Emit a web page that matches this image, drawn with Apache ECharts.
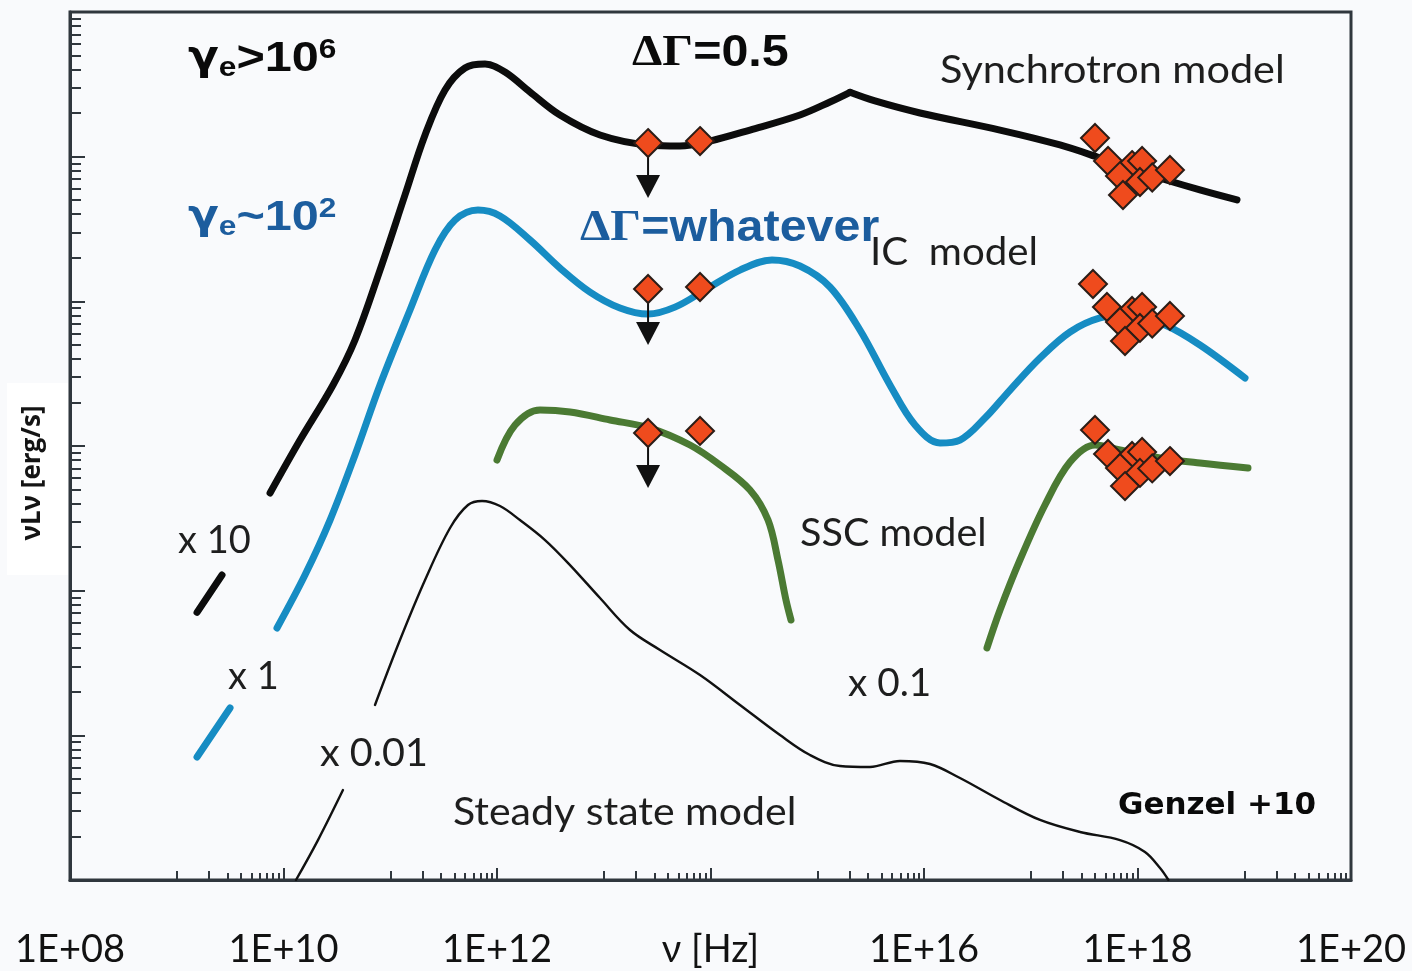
<!DOCTYPE html>
<html>
<head>
<meta charset="utf-8">
<script src="https://cdn.jsdelivr.net/npm/echarts@6/dist/echarts.min.js"></script>
<style>
  html, body { margin: 0; padding: 0; background: #f9fafc; }
  #chart { width: 1412px; height: 971px; }
</style>
</head>
<body>
<div id="chart"></div>
<script>
// Frequency axis in decades: log10(ν / Hz). Luminosity axis in decades above the lower frame.
const xTickLabels = ['1E+08', '1E+10', '1E+12', 'ν [Hz]', '1E+16', '1E+18', '1E+20'];

// Synchrotron model (x 10); the curve has a sharp break at ~2e15 Hz
const synchrotronLow = [[9.19, 1.85], [9.424, 2.108]];
const synchrotronRise = [
  [9.874, 2.675], [10.155, 3.041], [10.464, 3.422], [10.670, 3.733], [10.904, 4.216],
  [11.138, 4.735], [11.326, 5.150], [11.513, 5.461], [11.700, 5.613], [11.888, 5.640],
  [12.075, 5.585], [12.309, 5.447], [12.590, 5.288], [12.965, 5.150], [13.415, 5.081],
  [13.714, 5.074], [13.995, 5.108], [14.370, 5.184], [14.838, 5.288], [15.119, 5.378],
  [15.307, 5.445]
];
const synchrotronFall = [
  [15.307, 5.445], [15.541, 5.385], [15.963, 5.302], [16.712, 5.184], [17.274, 5.081],
  [17.649, 4.991], [18.117, 4.873], [18.585, 4.770], [18.932, 4.701]
];

// Inverse-Compton model (x 1)
const icLow = [[9.19, 0.850], [9.499, 1.189]];
const icMain = [
  [9.939, 1.742], [10.201, 2.108], [10.436, 2.488], [10.670, 2.938], [10.904, 3.422],
  [11.185, 3.940], [11.419, 4.355], [11.607, 4.562], [11.822, 4.631], [12.028, 4.590],
  [12.309, 4.424], [12.590, 4.230], [12.871, 4.064], [13.152, 3.954], [13.415, 3.912],
  [13.667, 3.960], [13.949, 4.078], [14.276, 4.216], [14.576, 4.286], [14.838, 4.244],
  [15.119, 4.099], [15.400, 3.802], [15.681, 3.422], [15.916, 3.145], [16.150, 3.021],
  [16.337, 3.041], [16.571, 3.193], [16.806, 3.387], [17.087, 3.608], [17.368, 3.788],
  [17.649, 3.885], [17.930, 3.905], [18.258, 3.836], [18.585, 3.698], [19.007, 3.470]
];

// Synchrotron self-Compton model (x 0.1)
const sscRadio = [
  [12.000, 2.903], [12.169, 3.145], [12.403, 3.249], [12.684, 3.235], [13.059, 3.180],
  [13.433, 3.124], [13.808, 3.007], [14.089, 2.869], [14.370, 2.696], [14.539, 2.488],
  [14.632, 2.212], [14.707, 1.935], [14.754, 1.797]
];
const sscXray = [
  [16.590, 1.604], [16.712, 1.866], [16.899, 2.212], [17.133, 2.592], [17.368, 2.889],
  [17.602, 3.007], [17.836, 2.972], [18.211, 2.917], [18.585, 2.882], [19.035, 2.848]
];

// Steady state model (x 0.01)
const steadyLow = [[10.117, 0.0], [10.323, 0.276], [10.557, 0.622]];
const steadyMain = [
  [10.857, 1.210], [11.091, 1.659], [11.326, 2.074], [11.560, 2.433], [11.728, 2.592],
  [11.860, 2.620], [12.028, 2.585], [12.215, 2.488], [12.450, 2.350], [12.684, 2.177],
  [12.965, 1.949], [13.246, 1.728], [13.527, 1.590], [13.902, 1.417], [14.276, 1.210],
  [14.651, 1.002], [14.932, 0.864], [15.213, 0.788], [15.494, 0.781], [15.775, 0.823],
  [16.056, 0.802], [16.337, 0.705], [16.712, 0.553], [17.087, 0.415], [17.461, 0.332],
  [17.836, 0.276], [18.070, 0.194], [18.211, 0.083], [18.290, 0.0]
];

// Flare measurements (Genzel +10), drawn against each model
const synchrotronPoints = [
  [13.415, 5.094], [13.902, 5.108],
  [17.602, 5.129], [17.724, 4.970], [17.949, 4.942], [18.043, 4.970], [17.836, 4.866],
  [18.023, 4.825], [18.138, 4.856], [17.864, 4.735], [18.304, 4.908]
];
const icPoints = [
  [13.415, 4.085], [13.902, 4.099],
  [17.583, 4.120], [17.714, 3.961], [17.949, 3.933], [18.043, 3.961], [17.836, 3.857],
  [18.023, 3.816], [18.138, 3.847], [17.883, 3.726], [18.304, 3.899]
];
const sscPoints = [
  [13.415, 3.090], [13.902, 3.104],
  [17.602, 3.111], [17.724, 2.945], [17.949, 2.931], [18.043, 2.959], [17.836, 2.848],
  [18.023, 2.814], [18.138, 2.845], [17.883, 2.723], [18.304, 2.896]
];
// Upper limits: [log10 ν, from, arrow tip]
const upperLimits = [[13.415, 5.094, 4.714], [13.415, 4.085, 3.698], [13.415, 3.090, 2.710]];

// Log-scale tick positions
const LOG = k => Math.log10(k);
const xTicksEven = [10, 12, 14, 16, 18, 20];
const xTicksOddA = [], xTicksOddB = [];
for (let d = 9; d <= 19; d += 2) {
  xTicksOddA.push(d, d + LOG(2));
  for (let k = 3; k <= 9; k++) xTicksOddB.push(d + LOG(k));
}
const yTicksMajor = [0, 1, 2, 3, 4, 5, 6];
const yTicksMinor = [];
for (let d = 0; d < 6; d++) for (let k = 2; k <= 9; k++) yTicksMinor.push(d + LOG(k));

const FRAME = '#30373d';
const BLACK = '#0c0c0c', BLUE = '#168cc3', GREEN = '#4b7a33';
const SANS = '"Liberation Sans", Arial, sans-serif';
const SERIF = '"Liberation Serif", "Times New Roman", serif';
const SOFT = 'Lato, "Noto Sans", sans-serif';
const GREEK = '"DejaVu Sans", sans-serif';

const chart = echarts.init(document.getElementById('chart'), null, { renderer: 'canvas' });

function xAxisTicks(values, len) {
  return {
    type: 'value', min: 8, max: 20, gridIndex: 0, position: 'bottom', offset: 0,
    axisLine: { show: false }, splitLine: { show: false }, axisLabel: { show: false },
    axisTick: { show: true, inside: true, length: len, customValues: values,
      lineStyle: { color: FRAME, width: 2 } }
  };
}
function yAxisTicks(values, len) {
  return {
    type: 'value', min: 0, max: 6, gridIndex: 0, position: 'left', offset: 0,
    axisLine: { show: false }, splitLine: { show: false }, axisLabel: { show: false },
    axisTick: { show: true, inside: true, length: len, customValues: values,
      lineStyle: { color: FRAME, width: 2 } }
  };
}

function curve(name, data, color, width, smooth) {
  return {
    name, type: 'line', data, smooth: smooth == null ? 0.35 : smooth, showSymbol: false, silent: true, z: 2,
    lineStyle: { color, width, cap: 'round', join: 'round' }
  };
}
function points(name, data) {
  return {
    name, type: 'scatter', data, symbol: 'diamond', symbolSize: 28, z: 5, silent: true,
    itemStyle: { color: '#ef4b1d', borderColor: '#2b1d17', borderWidth: 2, opacity: 1 }
  };
}

function text(t, x, y, font, fill, sx) {
  return {
    type: 'text', x, y, scaleX: sx || 1, z: 100,
    style: { text: t, font, fill, align: 'left', verticalAlign: 'middle' }
  };
}
function richText(t, x, y, rich, fill, sx) {
  return {
    type: 'text', x, y, scaleX: sx || 1, z: 100,
    style: { text: t, rich, fill, align: 'left', verticalAlign: 'middle' }
  };
}

const gammaRich = color => ({
  g: { font: 'bold 40px ' + GREEK, fill: color, lineHeight: 46, verticalAlign: 'middle' },
  m: { font: 'bold 43px ' + SANS, fill: color, lineHeight: 46, verticalAlign: 'middle' },
  s: { font: 'bold 28px ' + SANS, fill: color, lineHeight: 28, verticalAlign: 'bottom' },
  p: { font: 'bold 28px ' + SANS, fill: color, lineHeight: 30, verticalAlign: 'top' }
});
const deltaRich = color => ({
  g: { font: 'bold 44px ' + SERIF, fill: color, lineHeight: 48 },
  m: { font: 'bold 44px ' + SANS, fill: color, lineHeight: 48 }
});

const LABEL = '38px ' + SOFT, INK = '#1e1e1e';

const option = {
  backgroundColor: '#f9fafc',
  animation: false,
  grid: {
    left: 70, top: 12, right: 61, bottom: 91, show: true,
    borderColor: FRAME, borderWidth: 3, backgroundColor: 'transparent',
    containLabel: false, outerBoundsMode: 'none'
  },
  xAxis: [
    {
      type: 'value', min: 8, max: 20, interval: 2, position: 'bottom',
      axisLine: { show: true, lineStyle: { color: FRAME, width: 3 } },
      splitLine: { show: false },
      axisTick: { show: true, inside: true, length: 12, customValues: xTicksEven,
        lineStyle: { color: FRAME, width: 2 } },
      axisLabel: {
        show: true, margin: 70, verticalAlign: 'middle',
        color: '#121212', fontFamily: SOFT, fontSize: 38,
        formatter: v => xTickLabels[Math.round((v - 8) / 2)]
      }
    },
    xAxisTicks(xTicksOddA, 9),
    xAxisTicks(xTicksOddB, 7)
  ],
  yAxis: [
    {
      type: 'value', min: 0, max: 6, interval: 1, position: 'left',
      axisLine: { show: true, lineStyle: { color: FRAME, width: 3 } },
      splitLine: { show: false }, axisLabel: { show: false },
      axisTick: { show: true, inside: true, length: 15, customValues: yTicksMajor,
        lineStyle: { color: FRAME, width: 2 } }
    },
    yAxisTicks(yTicksMinor, 11)
  ],
  series: [
    curve('Synchrotron model', synchrotronLow, BLACK, 7),
    curve('Synchrotron model', synchrotronRise, BLACK, 7),
    curve('Synchrotron model', synchrotronFall, BLACK, 7),
    curve('IC model', icLow, BLUE, 7),
    curve('IC model', icMain, BLUE, 7),
    curve('SSC model', sscRadio, GREEN, 7),
    curve('SSC model', sscXray, GREEN, 7),
    curve('Steady state model', steadyLow, '#111111', 2.4),
    curve('Steady state model', steadyMain, '#111111', 2.4),
    {
      name: 'upper limits', type: 'custom', data: upperLimits, z: 4, silent: true,
      encode: { x: 0, y: [1, 2] },
      renderItem: (params, api) => {
        const from = api.coord([api.value(0), api.value(1)]);
        const tip = api.coord([api.value(0), api.value(2)]);
        const h = 23, w = 12;
        return {
          type: 'group',
          children: [
            { type: 'line', shape: { x1: from[0], y1: from[1], x2: tip[0], y2: tip[1] - h + 1 },
              style: { stroke: '#111', lineWidth: 2 } },
            { type: 'polygon', shape: { points: [[tip[0] - w, tip[1] - h], [tip[0] + w, tip[1] - h], [tip[0], tip[1]]] },
              style: { fill: '#111' } }
          ]
        };
      }
    },
    points('Genzel +10', synchrotronPoints),
    points('Genzel +10', icPoints),
    points('Genzel +10', sscPoints)
  ],
  graphic: {
    elements: [
      // axis title on a white card
      { type: 'rect', shape: { x: 7, y: 383, width: 61, height: 192 }, style: { fill: '#ffffff' }, z: 1 },
      {
        type: 'text', x: 33, y: 473, rotation: Math.PI / 2, z: 100,
        style: { text: 'νLν [erg/s]', font: 'bold 26px "Open Sans", Lato, sans-serif',
          fill: '#141414', align: 'center', verticalAlign: 'middle' }
      },

      richText('{g|γ}{s|e}{m|>10}{p|6}', 188, 59, gammaRich('#0a0a0a'), '#0a0a0a', 1.13),
      richText('{g|γ}{s|e}{m|~10}{p|2}', 188, 218, gammaRich('#1c5d9e'), '#1c5d9e', 1.13),
      richText('{g|ΔΓ}{m|=0.5}', 632, 54, deltaRich('#0a0a0a'), '#0a0a0a', 1.1),
      richText('{g|ΔΓ}{m|=whatever}', 580, 229, deltaRich('#1c5d9e'), '#1c5d9e', 1.1),

      text('Synchrotron model', 940, 71, LABEL, INK, 1.09),
      text('IC  model', 870, 253, LABEL, INK, 1.06),
      text('SSC model', 800, 534, LABEL, INK, 1.04),
      text('Steady state model', 453, 813, LABEL, INK, 1.08),
      text('x 10', 178, 541, LABEL, INK, 1.0),
      text('x 1', 228, 677, LABEL, INK, 1.0),
      text('x 0.01', 320, 754, LABEL, INK, 1.04),
      text('x 0.1', 848, 684, LABEL, INK, 1.02),
      text('Genzel +10', 1118, 806, 'bold 31px "DejaVu Sans", Verdana, sans-serif', '#0a0a0a', 1)
    ]
  }
};

chart.setOption(option);
</script>
</body>
</html>
